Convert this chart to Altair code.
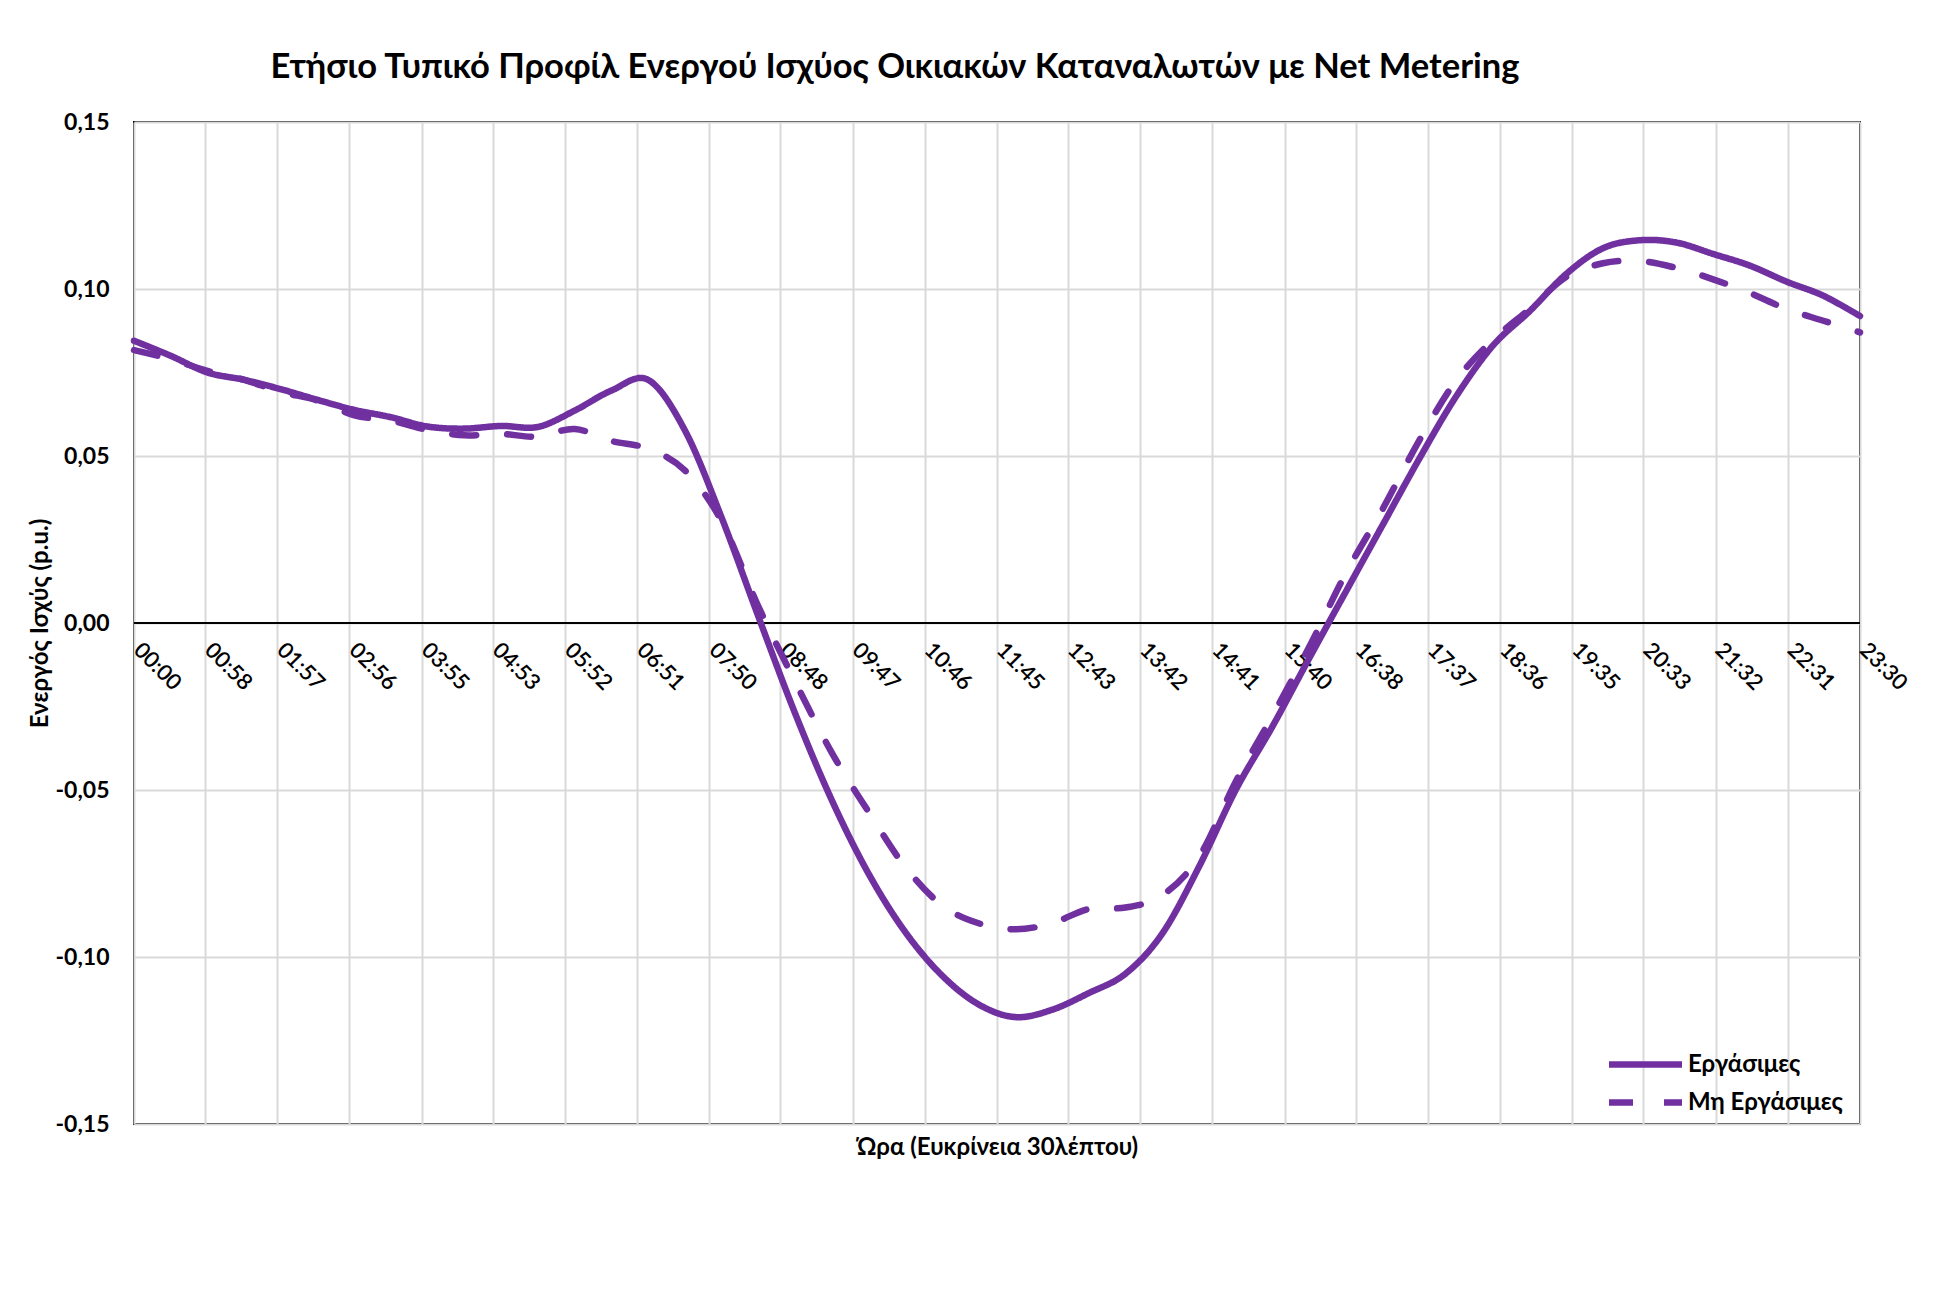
import json
import altair as alt
import pandas as pd

FONT = "Lato, 'Open Sans', sans-serif"
PURPLE = "#7030A0"

times = ["00:00", "00:30", "01:00", "01:30", "02:00", "02:30", "03:00", "03:30",
         "04:00", "04:30", "05:00", "05:30", "06:00", "06:30", "07:00", "07:30",
         "08:00", "08:30", "09:00", "09:30", "10:00", "10:30", "11:00", "11:30",
         "12:00", "12:30", "13:00", "13:30", "14:00", "14:30", "15:00", "15:30",
         "16:00", "16:30", "17:00", "17:30", "18:00", "18:30", "19:00", "19:30",
         "20:00", "20:30", "21:00", "21:30", "22:00", "22:30", "23:00", "23:30"]

working = [0.0845, 0.0800, 0.0750, 0.0728, 0.0700, 0.0668, 0.0638, 0.0616,
           0.0588, 0.0582, 0.0590, 0.0587, 0.0636, 0.0696, 0.0728, 0.0577,
           0.0316, 0.0020, -0.0270, -0.0530, -0.0750, -0.0925, -0.1055, -0.1142,
           -0.1180, -0.1158, -0.1108, -0.1050, -0.0930, -0.0730, -0.0500, -0.0310,
           -0.0106, 0.0094, 0.0293, 0.0492, 0.0678, 0.0830, 0.0933, 0.1045,
           0.1122, 0.1146, 0.1139, 0.1105, 0.1070, 0.1022, 0.0980, 0.0919]

non_working = [0.0817, 0.0790, 0.0755, 0.0728, 0.0692, 0.0666, 0.0622, 0.0606,
               0.0578, 0.0562, 0.0566, 0.0558, 0.0581, 0.0545, 0.0522, 0.0457,
               0.0305, 0.0050, -0.0175, -0.0388, -0.0565, -0.0730, -0.0845, -0.0899,
               -0.0917, -0.0899, -0.0856, -0.0852, -0.0815, -0.0700, -0.0475, -0.0278,
               -0.0072, 0.0149, 0.0341, 0.0547, 0.0726, 0.0847, 0.0940, 0.1036,
               0.1077, 0.1084, 0.1063, 0.1029, 0.0988, 0.0940, 0.0905, 0.0870]

series_names = ["Εργάσιμες", "Μη Εργάσιμες"]

tick_labels = ["00:00", "00:58", "01:57", "02:56", "03:55", "04:53", "05:52", "06:51",
               "07:50", "08:48", "09:47", "10:46", "11:45", "12:43", "13:42", "14:41",
               "15:40", "16:38", "17:37", "18:36", "19:35", "20:33", "21:32", "22:31",
               "23:30"]

y_ticks = [-0.15, -0.10, -0.05, 0.0, 0.05, 0.10, 0.15]


def to_min(s):
    h, m = s.split(":")
    return int(h) * 60 + int(m)


rows = []
for t, a, b in zip(times, working, non_working):
    rows.append({"t": to_min(t), "v": a, "s": series_names[0]})
    rows.append({"t": to_min(t), "v": b, "s": series_names[1]})
df = pd.DataFrame(rows)

tick_values = [to_min(l) for l in tick_labels]
x_label_expr = f"{json.dumps(tick_labels)}[indexof({json.dumps(tick_values)}, datum.value)]"
y_label_expr = "replace(replace(format(datum.value, '.2f'), '.', ','), '\u2212', '-')"

W, H = 1726, 1002

x_enc = alt.X(
    "t:Q",
    scale=alt.Scale(domain=[0, 1410], nice=False, zero=False),
    axis=alt.Axis(
        values=tick_values, labelExpr=x_label_expr, labelAngle=45,
        labelAlign="left", labelBaseline="middle", labelPadding=-478, labelOffset=3,
        ticks=False, tickSize=0, domain=False, grid=True, gridColor="#d9d9d9",
        gridWidth=2, labelFontSize=22, labelFontWeight=600, labelColor="black",
        labelFont=FONT, labelOverlap=False, labelFlush=False,
        title="Ώρα (Ευκρίνεια 30λέπτου)", titleX=W / 2, titleY=23,
        titleBaseline="middle", titleFontSize=24, titleFontWeight="bold",
        titleFont=FONT, titleColor="black",
    ),
)

y_enc = alt.Y(
    "v:Q",
    scale=alt.Scale(domain=[-0.15, 0.15], nice=False),
    axis=alt.Axis(
        values=y_ticks, labelExpr=y_label_expr, labelFontSize=23,
        labelFontWeight="bold", labelFont=FONT, labelColor="black",
        labelPadding=25, ticks=False, tickSize=0, domain=False, grid=True,
        gridColor="#d9d9d9", gridWidth=2,
        title="Ενεργός Ισχύς (p.u.)", titleX=-94, titleY=H / 2, titleAngle=270,
        titleBaseline="middle", titleFontSize=24, titleFontWeight="bold",
        titleFont=FONT, titleColor="black",
    ),
)

legend = alt.Legend(
    title=None, orient="none", legendX=1490, legendY=921, symbolType="M-2,0H2",
    symbolSize=1332, symbolStrokeWidth=6.5, labelFontSize=24, labelFont=FONT,
    labelFontWeight="bold", labelColor="black", rowPadding=3, padding=0,
    labelOffset=21,
)

lines = alt.Chart(df).mark_line(
    interpolate="cardinal", strokeWidth=6.5, strokeCap="round", strokeJoin="round"
).encode(
    x=x_enc,
    y=y_enc,
    color=alt.Color("s:N", scale=alt.Scale(domain=series_names, range=[PURPLE, PURPLE]),
                    legend=legend),
    strokeDash=alt.StrokeDash("s:N", scale=alt.Scale(domain=series_names,
                                                     range=[[1, 0], [24, 31]]),
                              legend=legend),
)

zero = alt.Chart(pd.DataFrame({"z": [0.0]})).mark_rule(color="black", strokeWidth=2).encode(
    y=alt.Y("z:Q", scale=alt.Scale(domain=[-0.15, 0.15], nice=False))
)

chart = alt.layer(zero, lines).properties(
    width=W, height=H,
    title=alt.TitleParams(
        text="Ετήσιο Τυπικό Προφίλ Ενεργού Ισχύος Οικιακών Καταναλωτών με Net Metering",
        fontSize=34.5, font=FONT, fontWeight="bold", color="black", anchor="middle",
        dx=-102, offset=26, frame="group",
    ),
    autosize=alt.AutoSizeParams(type="none"),
    padding={"left": 126, "top": 114, "right": 70, "bottom": 164},
    background="white",
).configure_view(stroke="black", strokeWidth=2)

chart.save("out.html", embed_options={"renderer": "svg", "actions": False})
